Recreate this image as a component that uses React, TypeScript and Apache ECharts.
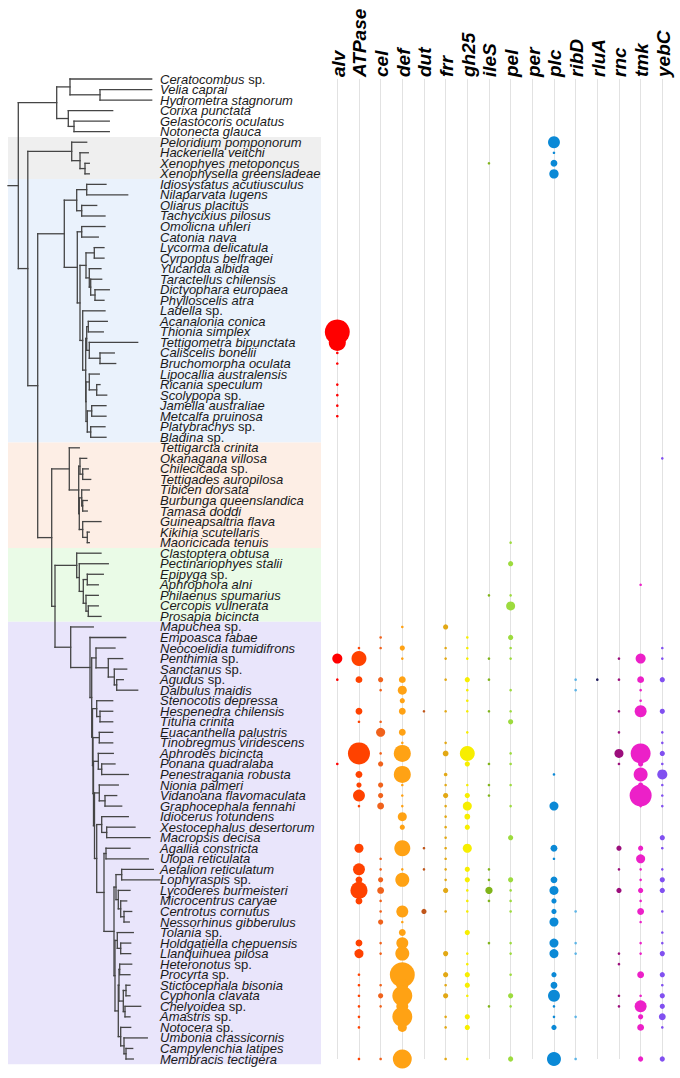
import React, { useEffect, useRef } from 'react';
import * as echarts from 'echarts';

// ---------- categories ----------
const species = [
  'Ceratocombus sp.', 'Velia caprai', 'Hydrometra stagnorum', 'Corixa punctata', 'Gelastocoris oculatus', 'Notonecta glauca',
  'Peloridium pomponorum', 'Hackeriella veitchi', 'Xenophyes metoponcus', 'Xenophysella greensladeae',
  'Idiosystatus acutiusculus', 'Nilaparvata lugens', 'Oliarus placitus', 'Tachycixius pilosus', 'Omolicna uhleri', 'Catonia nava',
  'Lycorma delicatula', 'Cyrpoptus belfragei', 'Yucanda albida', 'Taractellus chilensis', 'Dictyophara europaea', 'Phylloscelis atra',
  'Ladella sp.', 'Acanalonia conica', 'Thionia simplex', 'Tettigometra bipunctata', 'Caliscelis bonelii', 'Bruchomorpha oculata',
  'Lipocallia australensis', 'Ricania speculum', 'Scolypopa sp.', 'Jamella australiae', 'Metcalfa pruinosa', 'Platybrachys sp.', 'Bladina sp.',
  'Tettigarcta crinita', 'Okanagana villosa', 'Chilecicada sp.', 'Tettigades auropilosa', 'Tibicen dorsata', 'Burbunga queenslandica',
  'Tamasa doddi', 'Guineapsaltria flava', 'Kikihia scutellaris', 'Maoricicada tenuis',
  'Clastoptera obtusa', 'Pectinariophyes stalii', 'Epipyga sp.', 'Aphrophora alni', 'Philaenus spumarius', 'Cercopis vulnerata', 'Prosapia bicincta',
  'Mapuchea sp.', 'Empoasca fabae', 'Neocoelidia tumidifrons', 'Penthimia sp.', 'Sanctanus sp.', 'Agudus sp.', 'Dalbulus maidis',
  'Stenocotis depressa', 'Hespenedra chilensis', 'Tituria crinita', 'Euacanthella palustris', 'Tinobregmus viridescens',
  'Aphrodes bicincta', 'Ponana quadralaba', 'Penestragania robusta', 'Nionia palmeri', 'Vidanoana flavomaculata', 'Graphocephala fennahi',
  'Idiocerus rotundens', 'Xestocephalus desertorum', 'Macropsis decisa', 'Agallia constricta', 'Ulopa reticulata',
  'Aetalion reticulatum', 'Lophyraspis sp.', 'Lycoderes burmeisteri', 'Microcentrus caryae', 'Centrotus cornutus', 'Nessorhinus gibberulus',
  'Tolania sp.', 'Holdgatiella chepuensis', 'Llanquihuea pilosa', 'Heteronotus sp.', 'Procyrta sp.', 'Stictocephala bisonia',
  'Cyphonia clavata', 'Chelyoidea sp.', 'Amastris sp.', 'Notocera sp.', 'Umbonia crassicornis', 'Campylenchia latipes', 'Membracis tectigera',
];

const genes = ['alv', 'ATPase', 'cel', 'def', 'dut', 'frr', 'gh25', 'ileS', 'pel', 'per', 'plc', 'ribD', 'rluA', 'rnc', 'tmk', 'yebC'];
const geneColors = ['#ff0000', '#ff4200', '#f0621c', '#ffa214', '#c0561a', '#e2a815', '#f7ee00', '#80b41a', '#9ddb3e', '#40c040',
  '#0b89d6', '#5cb4e6', '#1d1a5c', '#9c0e7c', '#ec20c8', '#8150f0'];

// ---------- values: [row number (1-based), value] ----------
const alv = [[25, 92], [26, 43], [27, 1], [28, 1], [30, 1], [31, 1], [32, 1], [33, 1], [56, 15], [58, 1], [66, 1]];
const ATPase = [[55, 1], [56, 33], [58, 7], [61, 7], [62, 1], [65, 72], [67, 7], [68, 4], [69, 21], [70, 1], [74, 12], [76, 21], [77, 7], [78, 43], [79, 7], [83, 7], [84, 12], [86, 1], [87, 1], [88, 1], [89, 1], [90, 1], [91, 1], [94, 1]];
const cel = [[54, 1], [55, 1], [58, 4], [59, 1], [62, 1], [63, 12], [65, 1], [66, 4], [68, 4], [69, 4], [70, 7], [75, 1], [76, 1], [77, 4], [78, 7], [79, 1], [80, 1], [81, 4], [83, 1], [84, 1], [87, 1], [88, 4], [89, 1], [94, 1]];
const def = [[53, 1], [55, 4], [56, 1], [58, 7], [59, 12], [60, 4], [61, 7], [63, 7], [64, 1], [65, 43], [67, 43], [68, 1], [69, 1], [70, 1], [71, 12], [72, 4], [74, 38], [76, 1], [77, 29], [80, 21], [81, 1], [82, 7], [83, 21], [84, 29], [86, 92], [87, 21], [88, 59], [89, 21], [90, 59], [91, 12], [94, 53]];
const dut = [[61, 1], [74, 1], [76, 1], [80, 4]];
const frr = [[53, 4], [55, 1], [56, 1], [58, 1], [61, 1], [64, 1], [65, 5], [67, 2], [68, 1], [69, 4], [70, 1], [71, 1], [72, 1], [73, 1], [74, 1], [75, 1], [76, 1], [77, 1], [78, 4], [80, 1], [84, 4], [86, 4], [87, 1], [88, 4], [90, 1], [91, 1], [94, 1]];
const gh25 = [[54, 1], [55, 1], [56, 1], [58, 4], [59, 1], [60, 1], [61, 1], [63, 1], [65, 33], [66, 4], [68, 1], [69, 4], [70, 12], [71, 5], [72, 4], [74, 12], [76, 4], [77, 4], [78, 1], [79, 1], [80, 1], [82, 4], [84, 1], [85, 1], [86, 4], [87, 4], [88, 1], [90, 4], [91, 4], [94, 1]];
const ileS = [[9, 1], [50, 1], [56, 1], [58, 1], [61, 1], [66, 1], [68, 1], [69, 1], [76, 1], [77, 1], [78, 8], [79, 1], [83, 1], [89, 1]];
const pel = [[45, 1], [47, 4], [50, 1], [51, 12], [54, 4], [55, 1], [56, 1], [59, 1], [61, 1], [62, 4], [65, 1], [66, 1], [68, 1], [70, 1], [73, 4], [77, 4], [78, 1], [79, 1], [80, 1], [83, 1], [84, 1], [86, 1], [88, 4], [89, 1], [94, 4]];
const per: number[][] = [];
const plc = [[7, 21], [8, 1], [9, 7], [10, 13], [67, 1], [70, 12], [74, 7], [75, 1], [77, 7], [78, 12], [79, 4], [80, 4], [81, 12], [83, 12], [84, 12], [86, 4], [87, 7], [88, 21], [89, 1], [90, 1], [91, 4], [94, 29]];
const ribD = [[58, 1], [59, 1], [80, 1], [83, 1], [84, 1], [90, 1], [94, 1]];
const rluA = [[58, 1]];
const rnc = [[56, 1], [58, 1], [61, 1], [63, 1], [65, 12], [66, 1], [74, 4], [76, 1], [78, 4], [84, 1], [85, 1], [88, 1], [89, 1]];
const tmk = [[49, 1], [56, 15], [58, 7], [59, 1], [60, 1], [61, 21], [65, 59], [66, 4], [67, 29], [68, 4], [69, 72], [70, 1], [74, 4], [75, 12], [76, 1], [77, 1], [78, 4], [79, 1], [80, 7], [81, 1], [83, 1], [84, 1], [86, 7], [88, 1], [89, 21], [90, 4], [91, 7], [94, 4]];
const yebC = [[37, 1], [55, 1], [56, 1], [58, 4], [61, 4], [63, 1], [64, 1], [65, 4], [66, 1], [67, 15], [68, 1], [69, 1], [70, 1], [73, 4], [74, 1], [76, 1], [77, 4], [78, 4], [80, 1], [82, 1], [83, 1], [84, 4], [86, 4], [87, 1], [88, 4], [89, 4], [90, 7], [91, 1], [94, 4]];
const geneValues = [alv, ATPase, cel, def, dut, frr, gh25, ileS, pel, per, plc, ribD, rluA, rnc, tmk, yebC];

// ---------- clades (row ranges, 1-based) ----------
const cladeStart = [7, 11, 36, 46, 53];
const cladeEnd = [10, 35, 45, 52, 94];
const cladeColors = ['#efefef', '#eaf2fc', '#fdeee5', '#eafbe7', '#e9e5fb'];

// ---------- phylogeny (Newick, node value = depth from root) ----------
const heteroptera = '((Ceratocombus sp.:143.7,(Velia caprai:143.7,Hydrometra stagnorum:143.7):92):62,(Corixa punctata:104.7,(Gelastocoris oculatus:101.3,Notonecta glauca:101.3):66):60.3):48.7';
const coleorrhyncha = '(Peloridium pomponorum:78.7,(Hackeriella veitchi:80.3,(Xenophyes metoponcus:81.3,Xenophysella greensladeae:81.3):77):72):63.7';
const fulgoroidea = '(((Idiosystatus acutiusculus:98,Nilaparvata lugens:119.7):78.7,(Oliarus placitus:88.7,Tachycixius pilosus:97):73.7):68.7,((Omolicna uhleri:97,Catonia nava:90.3):73.7,(((Lycorma delicatula:96,Cyrpoptus belfragei:96):86.3,(Yucanda albida:93,(Taractellus chilensis:93.7,(Dictyophara europaea:101.3,Phylloscelis atra:96):87):82.7):81.3):78,(Ladella sp.:97,(((Acanalonia conica:99.3,Thionia simplex:95.3):80.3,(Tettigometra bipunctata:129.7,(Caliscelis bonelii:106.3,Bruchomorpha oculata:107.7):92):81.3):78.7,((Lipocallia australensis:91.3,(Ricania speculum:92,Scolypopa sp.:98.7):88.7):81.3,((Jamella australiae:98,Metcalfa pruinosa:98):83.7,(Platybrachys sp.:97,Bladina sp.:98):82.7):79.3):78):77.7):74.7):72):69.3):56.3';
const cicadoidea = '(Tettigarcta crinita:71.3,((Okanagana villosa:78.7,(Chilecicada sp.:80.3,Tettigades auropilosa:82.7):74.7):72,((Tibicen dorsata:81.3,(Burbunga queenslandica:79.3,Tamasa doddi:79.3):74.7):73.7,(Guineapsaltria flava:93,(Kikihia scutellaris:81.3,Maoricicada tenuis:81.3):79.3):74.7):71.3):70.7):61.3';
const cercopoidea = '(Clastoptera obtusa:93,(Pectinariophyes stalii:100.3,((Epipyga sp.:95.3,Aphrophora alni:90.3):79.3,(Philaenus spumarius:90.3,(Cercopis vulnerata:90.3,Prosapia bicincta:93):80.3):78):75.3):71.3):68.7';
const neocoelidia = '(Neocoelidia tumidifrons:107,(Penthimia sp.:114.7,(Sanctanus sp.:118.7,(Agudus sp.:115.3,Dalbulus maidis:129.7):108.7):106.3):100.3):88';
const membracidae = '(((Aetalion reticulatum:145.3,Lophyraspis sp.:152):113.7,(Lycoderes burmeisteri:122,(Microcentrus caryae:118.7,(Centrotus cornutus:123.7,Nessorhinus gibberulus:121.3):116):112.7):110.3):108,((Tolania sp.:125.3,(Holdgatiella chepuensis:122.7,Llanquihuea pilosa:122.7):112.7):109.3,(((Heteronotus sp.:123.7,Procyrta sp.:122):111.7,((Stictocephala bisonia:122,Cyphonia clavata:122):118,(Chelyoidea sp.:132.7,Amastris sp.:122):117):115.3):111,(Notocera sp.:122.7,(Umbonia crassicornis:139.3,(Campylenchia latipes:124.7,Membracis tectigera:125.3):118):116):112.7):110.3):107):106';
const leafhoppers = '((Stenocotis depressa:104.7,(Hespenedra chilensis:104.7,Tituria crinita:104.7):92):88.7,((Euacanthella palustris:104.7,Tinobregmus viridescens:104.7):91.3,((Aphrodes bicincta:105.3,(Ponana quadralaba:107,Penestragania robusta:120.3):93.7):90.3,((Nionia palmeri:110.3,(Vidanoana flavomaculata:108.7,Graphocephala fennahi:113.7):97):91.3,((Idiocerus rotundens:120.3,(Xestocephalus desertorum:127,Macropsis decisa:142):98.7):93.7,((Agallia constricta:122,Ulopa reticulata:140.3):98,' + membracidae + '):96):88.7):86.5):85.5):85):84.5';
const membracoidea = '(Mapuchea sp.:85.3,(Empoasca fabae:117.7,(' + neocoelidia + ',' + leafhoppers + '):83.7):82):62.7';
const treeNewick = '(' + heteroptera + ',(' + coleorrhyncha + ',(' + fulgoroidea + ',(' + cicadoidea + ',(' + cercopoidea + ',' + membracoidea + '):47):43.7):29.7):19.8):10.3';

type TNode = { name: string; depth: number; children: TNode[]; y: number };

function parseNewick(s: string): TNode {
  let i = 0;
  function node(): TNode {
    const n: TNode = { name: '', depth: 0, children: [], y: 0 };
    if (s[i] === '(') {
      i++;
      n.children.push(node());
      while (s[i] === ',') { i++; n.children.push(node()); }
      i++;
    } else {
      const st = i;
      while (s[i] !== ':') i++;
      n.name = s.slice(st, i).trim();
    }
    i++;
    const st = i;
    while (i < s.length && s[i] !== ',' && s[i] !== ')') i++;
    n.depth = parseFloat(s.slice(st, i));
    return n;
  }
  return node();
}

function treeSegments(): number[][] {
  const root = parseNewick(treeNewick);
  let counter = 0;
  const lay = (n: TNode) => {
    if (!n.children.length) {
      const idx = species.indexOf(n.name);
      n.y = idx >= 0 ? idx : counter;
      counter++;
    } else {
      n.children.forEach(lay);
      n.y = (n.children[0].y + n.children[n.children.length - 1].y) / 2;
    }
  };
  lay(root);
  const segs: number[][] = [[0, root.y, root.depth, root.y]];
  const walk = (n: TNode) => {
    if (!n.children.length) return;
    segs.push([n.depth, n.children[0].y, n.depth, n.children[n.children.length - 1].y]);
    n.children.forEach((c) => {
      segs.push([n.depth, c.y, c.depth, c.y]);
      walk(c);
    });
  };
  walk(root);
  return segs;
}

const FONT = '"Liberation Sans", Arial, Helvetica, sans-serif';

function buildOption() {
  const segs = treeSegments();
  const clades = cladeStart.map((s, k) => [s - 1, cladeEnd[k] - 1, k]);
  const scatter = genes.map((g, gi) => ({
    type: 'scatter',
    name: g,
    xAxisIndex: 1,
    yAxisIndex: 1,
    clip: false,
    silent: true,
    z: 5,
    itemStyle: { color: geneColors[gi], opacity: 1 },
    symbolSize: (v: number[]) => 2.6 * Math.sqrt(v[2]),
    data: geneValues[gi].map(([row, val]) => [gi, row - 1, val]),
  }));
  return {
    animation: false,
    backgroundColor: '#ffffff',
    grid: [
      { left: 8, top: 79, width: 313, height: 980 },
      { left: 337.3, top: 79, width: 325, height: 980 },
    ],
    xAxis: [
      { gridIndex: 0, type: 'value', min: 0, max: 313, show: false },
      {
        gridIndex: 1, type: 'category', data: genes, position: 'top', boundaryGap: false,
        axisLine: { show: false }, axisTick: { show: false },
        axisLabel: { show: false },
        splitLine: { show: true, interval: 0, lineStyle: { color: '#e2e2e2', width: 1 } },
      },
    ],
    yAxis: [
      { gridIndex: 0, type: 'value', min: 0, max: 93, inverse: true, show: false },
      {
        gridIndex: 1, type: 'category', data: species, inverse: true, boundaryGap: false,
        axisLine: { show: false }, axisTick: { show: false }, splitLine: { show: false },
        axisLabel: {
          interval: 0, align: 'left', margin: 177.3,
          formatter: (name: string) => (name.endsWith(' sp.') ? `{i|${name.slice(0, -4)}} {n|sp.}` : `{i|${name}}`),
          rich: {
            i: { fontStyle: 'italic', fontSize: 13, color: '#1a1a1a', fontFamily: FONT },
            n: { fontStyle: 'normal', fontSize: 13, color: '#1a1a1a', fontFamily: FONT },
          },
          fontSize: 13, color: '#1a1a1a', fontFamily: FONT,
        },
      },
    ],
    series: [
      {
        type: 'custom', xAxisIndex: 0, yAxisIndex: 0, silent: true, z: 0, clip: false,
        data: clades,
        encode: { x: -1, y: [0, 1] },
        renderItem: (params: any, api: any) => {
          const p1 = api.coord([0, api.value(0) - 0.5]);
          const p2 = api.coord([313, api.value(1) + 0.5]);
          return {
            type: 'rect',
            shape: { x: p1[0], y: p1[1], width: p2[0] - p1[0], height: p2[1] - p1[1] },
            style: { fill: cladeColors[api.value(2)] },
          };
        },
      },
      {
        type: 'custom', xAxisIndex: 0, yAxisIndex: 0, silent: true, z: 2, clip: false,
        data: segs,
        encode: { x: [0, 2], y: [1, 3] },
        renderItem: (params: any, api: any) => {
          const p1 = api.coord([api.value(0), api.value(1)]);
          const p2 = api.coord([api.value(2), api.value(3)]);
          return {
            type: 'line',
            shape: { x1: p1[0], y1: p1[1], x2: p2[0], y2: p2[1] },
            style: { stroke: '#454545', lineWidth: 1.3, lineCap: 'square' },
          };
        },
      },
      {
        // gene column headers, rotated, standing on the top of the matrix
        type: 'custom', xAxisIndex: 1, yAxisIndex: 1, silent: true, z: 6, clip: false,
        data: genes.map((g, gi) => [gi, 0]),
        encode: { x: 0, y: 1 },
        renderItem: (params: any, api: any) => {
          const p = api.coord([api.value(0), api.value(1)]);
          return {
            type: 'text',
            x: p[0] + 1,
            y: p[1] - 2,
            rotation: Math.PI / 2,
            style: {
              text: genes[params.dataIndex],
              fill: '#000',
              font: `italic bold 19px ${FONT}`,
              align: 'left',
              verticalAlign: 'middle',
              textAlign: 'left',
              textVerticalAlign: 'middle',
            },
          };
        },
      },
      ...scatter,
    ],
  };
}

export default function App() {
  const ref = useRef<HTMLDivElement>(null);
  useEffect(() => {
    const chart = echarts.init(ref.current as HTMLDivElement, null, { renderer: 'svg' });
    chart.setOption(buildOption() as any);
    return () => chart.dispose();
  }, []);
  return (
    <div
      ref={ref}
      style={{ position: 'absolute', left: 0, top: 0, width: 680, height: 1078, background: '#fff' }}
    />
  );
}
